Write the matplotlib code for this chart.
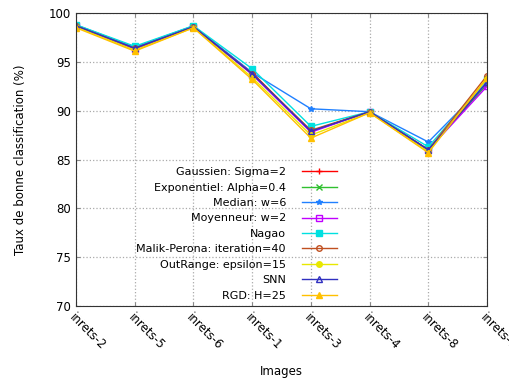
import matplotlib
matplotlib.use('Agg')
import matplotlib.pyplot as plt

cats = ['inrets-2', 'inrets-5', 'inrets-6', 'inrets-1', 'inrets-3', 'inrets-4', 'inrets-8', 'inrets-7']

gauss = [98.7, 96.4, 98.6, 93.9, 87.9, 89.9, 86.0, 93.0]
expo = [98.7, 96.4, 98.6, 93.8, 87.9, 89.9, 86.0, 92.7]
median = [98.8, 96.5, 98.7, 93.9, 90.2, 89.9, 86.8, 92.9]
moy = [98.7, 96.3, 98.6, 93.7, 87.8, 89.9, 86.0, 92.5]
nagao = [98.8, 96.6, 98.7, 94.3, 88.4, 89.9, 86.3, 93.2]
malik = [98.7, 96.4, 98.6, 93.8, 88.0, 89.9, 86.0, 93.6]
outr = [98.6, 96.2, 98.5, 93.4, 87.5, 89.8, 85.8, 93.3]
snn = [98.7, 96.4, 98.6, 93.8, 87.9, 89.9, 86.0, 92.9]
rgd = [98.5, 96.1, 98.5, 93.2, 87.2, 89.8, 85.7, 93.4]

series = [
    ('Gaussien: Sigma=2', gauss, '#ff0000', '+', True),
    ('Exponentiel: Alpha=0.4', expo, '#30c030', 'x', True),
    ('Median: w=6', median, '#2080ff', '*', True),
    ('Moyenneur: w=2', moy, '#c000ff', 's', False),
    ('Nagao', nagao, '#00e0e0', 's', True),
    ('Malik-Perona: iteration=40', malik, '#c05020', 'o', False),
    ('OutRange: epsilon=15', outr, '#e8e800', 'o', True),
    ('SNN', snn, '#3030c0', '^', False),
    ('RGD: H=25', rgd, '#ffc000', '^', True),
]

fig = plt.figure(figsize=(5.1, 3.85), dpi=100)
ax = fig.add_axes([0.149, 0.205, 0.806, 0.761])

x = list(range(len(cats)))
for label, vals, col, mk, filled in series:
    ax.plot(x, vals, color=col, lw=1, marker=mk, markersize=4,
            markerfacecolor=col if filled else 'none', markeredgecolor=col,
            markeredgewidth=1, label=label)

ax.set_xlim(0, len(cats) - 1)
ax.set_ylim(70, 100)
ax.set_yticks([70, 75, 80, 85, 90, 95, 100])
ax.set_xticks(x)
ax.set_xticklabels(cats, rotation=-45, ha='left', va='top', rotation_mode='anchor', fontsize=8.5)
ax.tick_params(axis='y', labelsize=8.5)
ax.tick_params(direction='in', length=3, color='#888888', right=True, top=True)
ax.grid(True, ls=':', color='#aaaaaa', lw=0.9)
for s in ax.spines.values():
    s.set_color('#333333')

ax.set_xlabel('Images', fontsize=8.5, labelpad=9)
ax.set_ylabel('Taux de bonne classification (%)', fontsize=8.5, labelpad=16)

ax.legend(loc='upper right', bbox_to_anchor=(0.661, 0.566), bbox_transform=fig.transFigure,
          markerfirst=False, frameon=False, fontsize=8.0, labelspacing=0.49,
          handlelength=3.2, handletextpad=1.4, borderpad=0, borderaxespad=0)

fig.savefig('out.png', dpi=100)
